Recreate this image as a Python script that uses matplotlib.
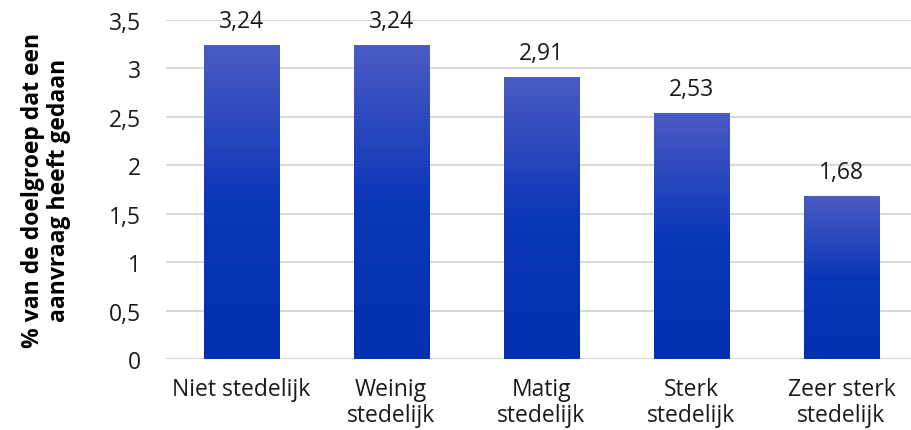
import matplotlib
matplotlib.use("Agg")
import matplotlib.pyplot as plt
import numpy as np
from matplotlib.colors import LinearSegmentedColormap

categories = ["Niet stedelijk", "Weinig\nstedelijk", "Matig\nstedelijk", "Sterk\nstedelijk", "Zeer sterk\nstedelijk"]
values = [3.24, 3.24, 2.91, 2.53, 1.68]
yticks = [0, 0.5, 1, 1.5, 2, 2.5, 3, 3.5]
ylabel = "% van de doelgroep dat een\naanvraag heeft gedaan"

plt.rcParams['font.family'] = ['Open Sans', 'DejaVu Sans']

fig = plt.figure(figsize=(9.12, 4.31), dpi=100)
ax = fig.add_axes([166/912, (431-360)/431, (912-166)/912, (360-21)/431])

cmap = LinearSegmentedColormap.from_list("g", [(0, "#0230af"), (0.5, "#0a36b8"), (1.0, "#4b5bc3")])
grad = np.linspace(0, 1, 256).reshape(-1, 1)

x = np.arange(len(categories))
bars = ax.bar(x, values, width=0.5, color="none", zorder=3)
for b in bars:
    x0, y0 = b.get_x(), b.get_y()
    w, h = b.get_width(), b.get_height()
    ax.imshow(grad, cmap=cmap, origin="lower", aspect="auto",
              extent=[x0, x0 + w, y0, y0 + h], zorder=3)

for xi, v in zip(x, values):
    ax.text(xi, v + 0.13, f"{v:.2f}".replace(".", ","), ha="center", va="bottom",
            fontsize=16.5, color="#1a1a1a")

ax.set_xlim(-0.5, 4.47)
ax.set_ylim(0, 3.5)
ax.set_yticks(yticks)
ax.set_yticklabels([f"{t:g}".replace(".", ",") for t in yticks], fontsize=16.5)
ax.set_xticks(x)
ax.set_xticklabels(categories, fontsize=16.5, linespacing=1.1)
ax.yaxis.grid(True, color="#d9d9d9", linewidth=1.5, zorder=0)
ax.set_axisbelow(True)
for s in ax.spines.values():
    s.set_visible(False)
ax.tick_params(axis="both", length=0, colors="#1a1a1a")
ax.tick_params(axis="y", pad=18)
ax.tick_params(axis="x", pad=13)
ax.set_ylabel(ylabel, fontsize=16.5, fontweight="bold", linespacing=1.15, labelpad=27)

fig.savefig("out.png", dpi=100)
